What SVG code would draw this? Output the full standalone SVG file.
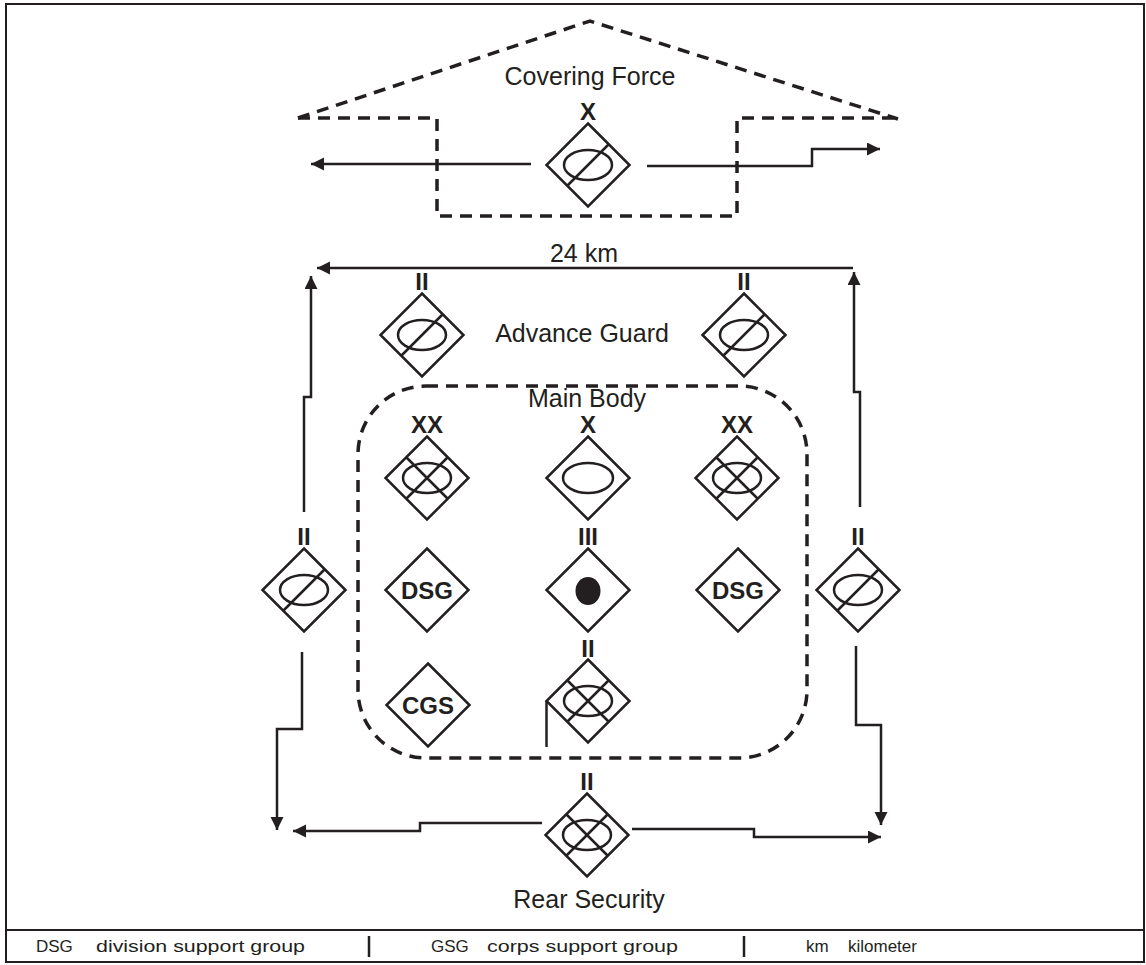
<svg xmlns="http://www.w3.org/2000/svg" xmlns:xlink="http://www.w3.org/1999/xlink" width="1146" height="965" viewBox="0 0 1146 965">
<style>
.bg{fill:#ffffff}
.frame{fill:none;stroke:#231f20;stroke-width:2}
.sym{fill:none;stroke:#231f20;stroke-width:2.5}
.dash{fill:none;stroke:#231f20;stroke-width:3.5;stroke-dasharray:12 8}
.conn{fill:none;stroke:#231f20;stroke-width:2.5}
.lbl{font-family:"Liberation Sans",Arial,sans-serif;font-size:25px;fill:#231f20;text-anchor:middle}
.ech{font-family:"Liberation Sans",Arial,sans-serif;font-size:24px;font-weight:bold;fill:#231f20;text-anchor:middle}
.abbr{font-family:"Liberation Sans",Arial,sans-serif;font-size:24px;font-weight:bold;fill:#231f20;text-anchor:middle}
.leg{font-family:"Liberation Sans",Arial,sans-serif;font-size:17px;fill:#231f20}
</style>
<defs>
<marker id="ah" markerUnits="userSpaceOnUse" markerWidth="14" markerHeight="14" refX="13" refY="6.5" orient="auto">
<path d="M0,0 L13,6.5 L0,13 Z" fill="#231f20"/>
</marker>
<path id="dia" d="M0,-41.5 L41.5,0 L0,41.5 L-41.5,0 Z" class="sym"/>
<g id="slash">
<use xlink:href="#dia"/>
<ellipse cx="0" cy="0" rx="24" ry="15" class="sym"/>
<line x1="-20.75" y1="20.75" x2="20.75" y2="-20.75" class="sym"/>
</g>
<g id="cross">
<use xlink:href="#dia"/>
<ellipse cx="0" cy="0" rx="24" ry="15" class="sym"/>
<line x1="-20.75" y1="20.75" x2="20.75" y2="-20.75" class="sym"/>
<line x1="-20.75" y1="-20.75" x2="20.75" y2="20.75" class="sym"/>
</g>
</defs>
<rect class="bg" x="0" y="0" width="1146" height="965"/>
<g id="frame">
<rect class="frame" x="6" y="4" width="1138" height="958"/>
<line class="frame" x1="6" y1="930" x2="1144" y2="930"/>
</g>
<g id="covering-force-zone">
<path class="dash" d="M298,118 L590,21 L898,119"/>
<path class="dash" d="M298,118 H437 V216 H737 V118 H898"/>
<text class="lbl" x="590" y="85">Covering Force</text>
</g>
<g id="main-body-zone">
<rect class="dash" x="358" y="386" width="449" height="372" rx="68" ry="68"/>
<text class="lbl" x="587" y="407">Main Body</text>
</g>
<g id="connectors">
<path class="conn" d="M531,164 H311" marker-end="url(#ah)"/>
<path class="conn" d="M647,166 H812 V149 H880" marker-end="url(#ah)"/>
<path class="conn" d="M853,268 H317" marker-end="url(#ah)"/>
<path class="conn" d="M304,512 V397 H311 V276" marker-end="url(#ah)"/>
<path class="conn" d="M860,507 V392 H854 V272" marker-end="url(#ah)"/>
<path class="conn" d="M302,652 V729 H277 V830" marker-end="url(#ah)"/>
<path class="conn" d="M856,646 V725 H881 V825" marker-end="url(#ah)"/>
<path class="conn" d="M542,823 H420 V831 H293" marker-end="url(#ah)"/>
<path class="conn" d="M632,829 H754 V837 H881" marker-end="url(#ah)"/>
</g>
<g id="distance-label">
<text class="lbl" x="584" y="262">24 km</text>
</g>
<g id="advance-guard-label">
<text class="lbl" x="582" y="342">Advance Guard</text>
</g>
<g id="rear-security-label">
<text class="lbl" x="589" y="908">Rear Security</text>
</g>
<g id="cf-brigade">
<text class="ech" x="588" y="120">X</text>
<use xlink:href="#slash" x="588" y="165"/>
</g>
<g id="ag-left">
<text class="ech" x="422" y="290">II</text>
<use xlink:href="#slash" x="422" y="335"/>
</g>
<g id="ag-right">
<text class="ech" x="744" y="290">II</text>
<use xlink:href="#slash" x="744" y="335"/>
</g>
<g id="mb-div-left">
<text class="ech" x="427" y="433">XX</text>
<use xlink:href="#cross" x="427" y="478"/>
</g>
<g id="mb-brigade">
<text class="ech" x="588" y="433">X</text>
<use xlink:href="#dia" x="588" y="478"/>
<ellipse cx="588" cy="478" rx="25" ry="15" class="sym"/>
</g>
<g id="mb-div-right">
<text class="ech" x="737" y="433">XX</text>
<use xlink:href="#cross" x="737" y="478"/>
</g>
<g id="flank-left">
<text class="ech" x="304" y="545">II</text>
<use xlink:href="#slash" x="304" y="590"/>
</g>
<g id="dsg-left">
<use xlink:href="#dia" x="427" y="590"/>
<text class="abbr" x="427" y="598.5">DSG</text>
</g>
<g id="regiment">
<text class="ech" x="588" y="545">III</text>
<use xlink:href="#dia" x="588" y="590"/>
<ellipse cx="588" cy="591" rx="12.5" ry="14" fill="#231f20"/>
</g>
<g id="dsg-right">
<use xlink:href="#dia" x="738" y="590"/>
<text class="abbr" x="738" y="598.5">DSG</text>
</g>
<g id="flank-right">
<text class="ech" x="858" y="545">II</text>
<use xlink:href="#slash" x="858" y="590"/>
</g>
<g id="cgs">
<use xlink:href="#dia" x="428" y="705"/>
<text class="abbr" x="428" y="713.5">CGS</text>
</g>
<g id="mb-battalion">
<text class="ech" x="588" y="657">II</text>
<use xlink:href="#cross" x="588" y="701"/>
<line x1="546.5" y1="701" x2="546.5" y2="747" class="sym"/>
</g>
<g id="rear-battalion">
<text class="ech" x="587" y="790">II</text>
<use xlink:href="#cross" x="587" y="835"/>
</g>
<g id="legend">
<text class="leg" x="36" y="952">DSG</text>
<text class="leg" x="96" y="952" textLength="209" lengthAdjust="spacingAndGlyphs">division support group</text>
<line x1="369" y1="936" x2="369" y2="957" class="sym"/>
<text class="leg" x="431" y="952">GSG</text>
<text class="leg" x="487" y="952" textLength="191" lengthAdjust="spacingAndGlyphs">corps support group</text>
<line x1="744" y1="936" x2="744" y2="957" class="sym"/>
<text class="leg" x="806" y="952">km</text>
<text class="leg" x="848" y="952">kilometer</text>
</g>
</svg>
